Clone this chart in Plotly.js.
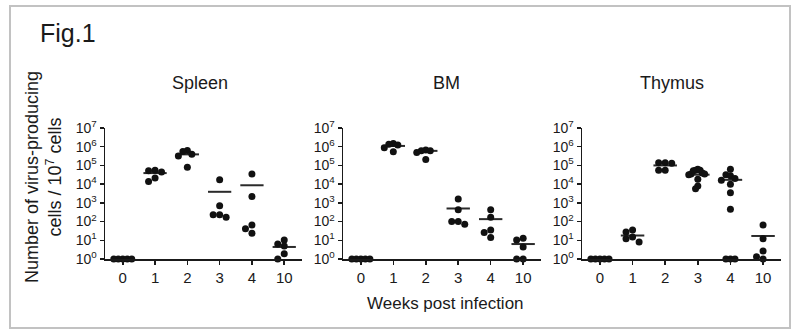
<!DOCTYPE html>
<html>
<head>
<meta charset="utf-8">
<script src="https://cdn.plot.ly/plotly-3.0.1.min.js"></script>
<style>html,body{margin:0;padding:0;background:#fff;}#chart{width:792px;height:331px;}</style>
</head>
<body>
<div id="chart"></div>
<script>
// ---- data (cells producing virus per 10^7 cells) ----
const weeks = ['0', '1', '2', '3', '4', '10'];
const panelTitles = ['Spleen', 'BM', 'Thymus'];

const spleenW0 = [1, 1, 1, 1, 1];
const spleenW1 = [56000, 52000, 45000, 21000, 14000];
const spleenW2 = [630000, 560000, 400000, 320000, 80000];
const spleenW3 = [17000, 700, 230, 230, 170];
const spleenW4 = [35000, 2200, 66, 41, 24];
const spleenW10 = [10.5, 6.3, 5, 1.9, 1];
const spleenMean = [1, 39000, 390000, 3900, 8700, 4.4];

const bmW0 = [1, 1, 1, 1, 1];
const bmW1 = [1500000, 1350000, 1230000, 890000, 540000];
const bmW2 = [660000, 600000, 600000, 490000, 210000];
const bmW3 = [1600, 430, 100, 100, 72];
const bmW4 = [430, 170, 35, 26, 14];
const bmW10 = [13, 10.5, 4.4, 1, 1];
const bmMean = [1, 1100000, 600000, 500, 135, 6.3];

const thymusW0 = [1, 1, 1, 1, 1];
const thymusW1 = [35, 28, 15, 12, 8];
const thymusW2 = [141000, 141000, 132000, 56000, 56000];
const thymusW3 = [63000, 56000, 56000, 52000, 40000, 35000, 35000, 32000, 18000, 7900, 5600];
const thymusW4 = [63000, 32000, 28000, 20000, 16000, 10000, 3500, 450, 1, 1, 1];
const thymusW10 = [66, 12, 2.7, 1.3, 1];
const thymusMean = [1, 18, 100000, 32000, 17000, 17];

const yTickVals = [1, 10, 100, 1000, 10000, 100000, 1000000, 10000000];
const yTickText = ['10<sup>0</sup>', '10<sup>1</sup>', '10<sup>2</sup>', '10<sup>3</sup>', '10<sup>4</sup>', '10<sup>5</sup>', '10<sup>6</sup>', '10<sup>7</sup>'];

const panels = [
  {groups: [spleenW0, spleenW1, spleenW2, spleenW3, spleenW4, spleenW10], mean: spleenMean},
  {groups: [bmW0, bmW1, bmW2, bmW3, bmW4, bmW10], mean: bmMean},
  {groups: [thymusW0, thymusW1, thymusW2, thymusW3, thymusW4, thymusW10], mean: thymusMean}
];

// ---- layout geometry (pixels) ----
const W = 792, H = 331;
const PX_PER_CAT = 32.4, PX_PER_DEC = 18.7;
const xDomPx = [[105, 302], [343, 541], [582, 781]];
const yTopPx = 128, yBotPx = 259;
const ink = '#1a1a1a';

// simple beeswarm: horizontal offsets (category units) so dots do not overlap
function swarm(vals) {
  const step = 6.5, minDist = 6, maxHalf = 9;
  const placed = [];
  const ks = [0, -1, 1, -2, 2, -3, 3, -4, 4, -5, 5];
  vals.forEach(v => {
    const y = Math.log10(v) * PX_PER_DEC;
    for (const k of ks) {
      const x = k * step;
      if (placed.every(p => Math.hypot(p.x - x, p.y - y) >= minDist)) { placed.push({x, y}); return; }
    }
    placed.push({x: 0, y});
  });
  const m = Math.max(...placed.map(p => Math.abs(p.x)));
  const f = m > maxHalf ? maxHalf / m : 1;
  return placed.map(p => p.x * f / PX_PER_CAT);
}

const traces = [];
const layout = {
  width: W, height: H,
  margin: {l: 0, r: 0, t: 0, b: 0},
  paper_bgcolor: '#fff', plot_bgcolor: '#fff',
  showlegend: false,
  font: {family: 'Liberation Sans, Arial, sans-serif', color: ink},
  annotations: [], shapes: []
};

panels.forEach((p, i) => {
  const xa = i === 0 ? 'x' : 'x' + (i + 1);
  const ya = i === 0 ? 'y' : 'y' + (i + 1);
  const xs = [], ys = [];
  p.groups.forEach((g, c) => {
    const offs = swarm(g);
    g.forEach((v, j) => { xs.push(c + offs[j]); ys.push(v); });
  });
  const lx = [], ly = [];
  p.mean.forEach((m, c) => { lx.push(c - 0.36, c + 0.36, null); ly.push(m, m, null); });
  traces.push({x: lx, y: ly, xaxis: xa, yaxis: ya, mode: 'lines', type: 'scatter',
    line: {color: '#2a2a2a', width: 2}, cliponaxis: false, hoverinfo: 'skip'});
  traces.push({x: xs, y: ys, xaxis: xa, yaxis: ya, mode: 'markers', type: 'scatter',
    marker: {color: '#111', size: 7}, cliponaxis: false});

  const sfx = i === 0 ? '' : String(i + 1);
  layout['xaxis' + sfx] = {
    domain: [xDomPx[i][0] / W, xDomPx[i][1] / W], anchor: ya,
    range: [-0.55, 5.55], tickmode: 'array', tickvals: [0, 1, 2, 3, 4, 5], ticktext: weeks,
    showline: true, linecolor: ink, linewidth: 1.5, ticks: 'outside', ticklen: 4, tickwidth: 1.5,
    tickcolor: ink, showgrid: false, zeroline: false, tickfont: {size: 15, color: ink}, fixedrange: true
  };
  layout['yaxis' + sfx] = {
    domain: [1 - yBotPx / H, 1 - yTopPx / H], anchor: xa, type: 'log',
    range: [0, 7], tickmode: 'array', tickvals: yTickVals, ticktext: yTickText,
    showline: true, linecolor: ink, linewidth: 1.5, ticks: 'outside', ticklen: 4, tickwidth: 1.5,
    tickcolor: ink, showgrid: false, zeroline: false, tickfont: {size: 14, color: ink}, fixedrange: true
  };
});

const titleX = [200, 446, 672];
panelTitles.forEach((t, i) => {
  layout.annotations.push({text: t, xref: 'paper', yref: 'paper', x: titleX[i] / W, y: 1 - 83 / H,
    xanchor: 'center', yanchor: 'middle', showarrow: false, font: {size: 18, color: ink}});
});
layout.annotations.push({text: 'Fig.1', xref: 'paper', yref: 'paper', x: 38 / W, y: 1 - 33 / H,
  xanchor: 'left', yanchor: 'middle', showarrow: false, font: {size: 25, color: ink}});
layout.annotations.push({text: 'Number of virus-producing<br>cells / 10<sup>7</sup> cells', xref: 'paper', yref: 'paper',
  x: 43 / W, y: 1 - 177 / H, xanchor: 'center', yanchor: 'middle', textangle: -90, showarrow: false,
  font: {size: 18, color: ink}});
layout.annotations.push({text: 'Weeks post infection', xref: 'paper', yref: 'paper', x: 445 / W, y: 1 - 303 / H,
  xanchor: 'center', yanchor: 'middle', showarrow: false, font: {size: 17, color: ink}});
layout.shapes.push({type: 'rect', xref: 'paper', yref: 'paper', x0: 10 / W, x1: 790 / W, y0: 1 - 328 / H, y1: 1 - 6 / H,
  line: {color: '#c2c2c2', width: 2}, fillcolor: 'rgba(0,0,0,0)'});

Plotly.newPlot('chart', traces, layout, {staticPlot: true, displayModeBar: false});
</script>
</body>
</html>
